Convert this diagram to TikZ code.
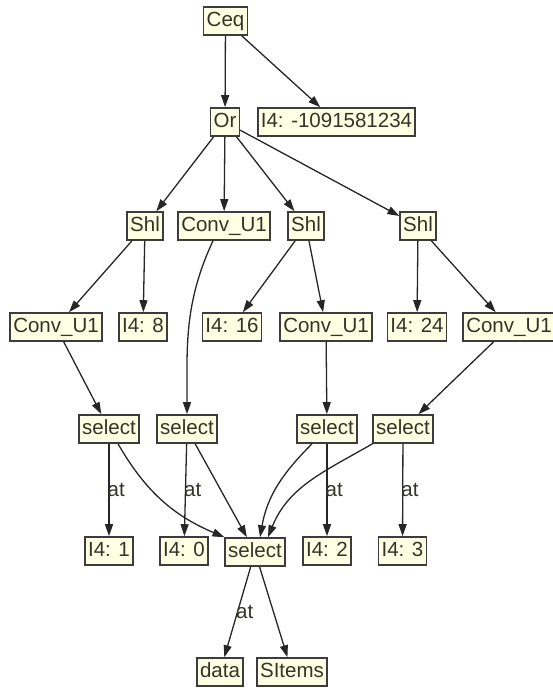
\documentclass[tikz,border=0pt]{standalone}
\usepackage{fontspec}
\setmainfont{Liberation Sans}
\usetikzlibrary{arrows.meta}
\definecolor{nodefill}{HTML}{FFFFE3}
\definecolor{nodeline}{HTML}{3C3C3C}
\definecolor{edgecol}{HTML}{262626}
\definecolor{txtcol}{HTML}{333328}
\begin{document}
\begin{tikzpicture}[x=1pt,y=-1pt,
  box/.style={draw=nodeline, line width=1.6pt, fill=nodefill, rectangle,
    minimum height=28pt, inner xsep=3pt, inner ysep=0pt,
    text height=15pt, text depth=4.5pt,
    font=\fontsize{20.5}{24}\selectfont, text=txtcol},
  edge/.style={draw=edgecol, line width=1.3pt, -{Triangle[length=12pt,width=8pt]}},
  lbl/.style={anchor=west, inner sep=0pt, xshift=-2pt,
    font=\fontsize{20.5}{24}\selectfont, text=txtcol}]
\useasboundingbox (0,0) rectangle (553,690);
% nodes
\node[box] (ceq) at (225.5,21) {Ceq};
\node[box] (or) at (225,122) {Or};
\node[box] (c1) at (336.5,122) {I4: -1091581234};
\node[box] (shl1) at (145,226) {Shl};
\node[box] (conv0) at (224,226) {Conv\_U1};
\node[box] (shl2) at (306,226) {Shl};
\node[box] (shl3) at (418,226) {Shl};
\node[box] (convL) at (56,327) {Conv\_U1};
\node[box] (i8) at (143,327) {I4: 8};
\node[box] (i16) at (232,327) {I4: 16};
\node[box] (convM) at (326,327) {Conv\_U1};
\node[box] (i24) at (417,327) {I4: 24};
\node[box] (convR) at (509,327) {Conv\_U1};
\node[box] (sel1) at (109,429) {select};
\node[box] (sel2) at (187,429) {select};
\node[box] (sel3) at (327,429) {select};
\node[box] (sel4) at (403,429) {select};
\node[box] (i1) at (109,551) {I4: 1};
\node[box] (i0) at (184,551) {I4: 0};
\node[box] (selB) at (255,552) {select};
\node[box] (i2) at (327,551) {I4: 2};
\node[box] (i3) at (402.5,551) {I4: 3};
\node[box] (data) at (220,672) {data};
\node[box] (items) at (292,672) {SItems};
% edges
\draw[edge] (ceq) -- (or);
\draw[edge] (ceq) -- (c1);
\draw[edge] (or) -- (shl1);
\draw[edge] (or) -- (conv0);
\draw[edge] (or) -- (shl2);
\draw[edge] (or) -- (shl3);
\draw[edge] (shl1) -- (convL);
\draw[edge] (shl1) -- (i8);
\draw[edge] ([xshift=-11pt]conv0.south) to[out=-115,in=90] (sel2);
\draw[edge] (shl2) -- (i16);
\draw[edge] (shl2) -- (convM);
\draw[edge] (shl3) -- (i24);
\draw[edge] (shl3) -- (convR);
\draw[edge] (convL) -- (sel1);
\draw[edge] (convM) -- (sel3);
\draw[edge] (convR) -- (sel4);
\draw[edge] (sel1) -- node[lbl] {at} (i1);
\draw[edge] ([xshift=9pt]sel1.south) to[out=-60,in=157] (selB.north west);
\draw[edge] (sel2) -- node[lbl] {at} (i0);
\draw[edge] (sel2) -- (selB);
\draw[edge] ([xshift=-15pt]sel3.south) to[out=-135,in=80] ([xshift=5pt]selB.north);
\draw[edge] (sel3) -- node[lbl] {at} (i2);
\draw[edge] (sel4.south west) to[out=-150,in=68] ([xshift=13pt]selB.north);
\draw[edge] (sel4) -- node[lbl] {at} (i3);
\draw[edge] (selB) -- node[lbl] {at} (data);
\draw[edge] (selB) -- (items);
\end{tikzpicture}
\end{document}
